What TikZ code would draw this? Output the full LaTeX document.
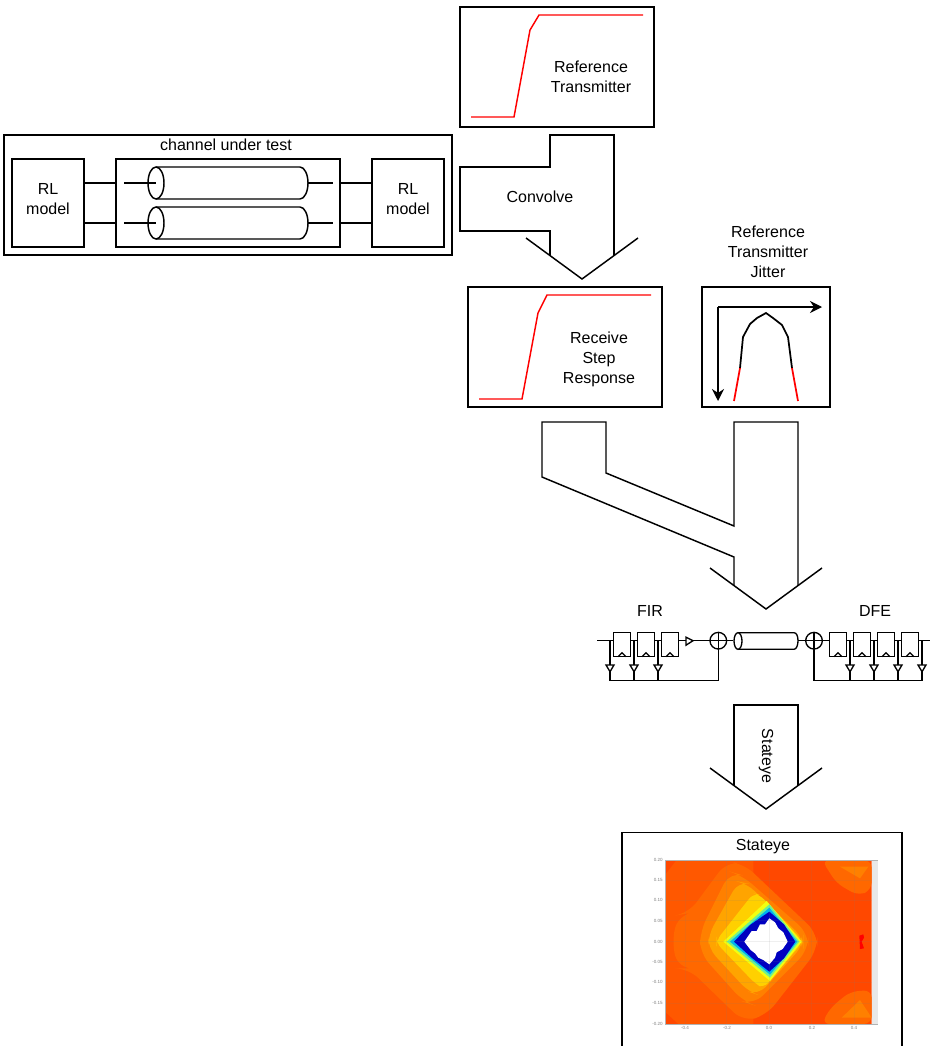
\documentclass[tikz,border=0pt]{standalone}
\usepackage{fontspec}
\setmainfont{Liberation Sans}
\usetikzlibrary{arrows.meta,positioning,calc}
\definecolor{eyeA}{HTML}{FF4800}
\definecolor{eyeL}{HTML}{FF5800}
\definecolor{eyeB}{HTML}{FF6800}
\definecolor{eyeC}{HTML}{FF8000}
\definecolor{eyeD}{HTML}{FFA400}
\definecolor{eyeE}{HTML}{FFD000}
\definecolor{eyeF}{HTML}{F2FF10}
\definecolor{eyeG}{HTML}{70F090}
\definecolor{eyeH}{HTML}{00B4F0}
\definecolor{eyeI}{HTML}{0000C0}
\tikzset{
  line/.style={line width=1.1pt, line join=miter},
  thin line/.style={line width=1pt},
  box/.style={draw, line width=1.1pt, minimum width=#1, minimum height=90pt, inner sep=0pt},
  label/.style={font=\fontsize{12}{15}\selectfont, align=center, inner sep=0pt},
  reg/.style={draw, line width=1pt, fill=white, minimum width=13pt, minimum height=18pt, inner sep=0pt},
  sumnode/.style={draw, circle, line width=1pt, fill=white, minimum size=12.5pt, inner sep=0pt},
  tick/.style={font=\fontsize{3.4}{4}\selectfont, text=gray, inner sep=0pt},
}
\begin{document}
\begin{tikzpicture}[x=0.75pt, y=-0.75pt, >={Stealth[length=9pt,width=9pt]}]
  \useasboundingbox (0,0) rectangle (930,1046);
  % reference transmitter
  \node[box=145.5pt] (txbox) at (557,67) {};
  \draw[line, red] (471,117) -- (514,117) -- (530,30) -- (539,15) -- (643,15);
  \node[label] (txtext) at (591,77) {Reference\\Transmitter};
  % channel under test
  \node[box=336pt] (channel) at (228,195) {};
  \node[label] (chtext) at (226,145) {channel under test};
  \node[box=54pt, minimum height=66pt] (rlleft) at (48,203) {};
  \node[box=54pt, minimum height=66pt] (rlright) at (408,203) {};
  \node[box=168pt, minimum height=66pt] (cable) at (228,203) {};
  \node[label] (rllefttext) at (48,199) {RL\\model};
  \node[label] (rlrighttext) at (408,199) {RL\\model};
  \foreach \y in {183,223} {
    \draw[line] (rlleft.east |- 0,\y) -- (cable.west |- 0,\y);
    \draw[line] (cable.east |- 0,\y) -- (rlright.west |- 0,\y);
    \draw[line] (124,\y) -- (156,\y);
    \draw[line] (156,\y-16) -- (300,\y-16) .. controls (304.4,\y-16) and (308,\y-8.8) .. (308,\y)
      .. controls (308,\y+8.8) and (304.4,\y+16) .. (300,\y+16) -- (156,\y+16);
    \draw[line] (156,\y) ellipse (8 and 16);
    \draw[line] (308,\y) -- (333,\y);
  }
  % convolve arrow
  \draw[line] (550,255.6) -- (550,231) -- (460,231) -- (460,167) -- (550,167) -- (550,135)
    -- (614,135) -- (614,255.6);
  \draw[line] (526,238) -- (582,279) -- (638,238);
  \node[label] (convolve) at (540,197) {Convolve};
  % receive step response
  \node[box=145.5pt] (rxbox) at (565,347) {};
  \draw[line, red] (479,399) -- (522,399) -- (538,313) -- (547,295) -- (651,295);
  \node[label] (rxtext) at (599,359) {Receive\\Step\\Response};
  % jitter
  \node[label] (jittext) at (768,252) {Reference\\Transmitter\\Jitter};
  \node[box=96pt] (jitbox) at (766,347) {};
  \coordinate (jitorg) at (718,307);
  \draw[line, ->] (jitorg) -- (822,307);
  \draw[line, ->] (jitorg) -- (718,401);
  \draw[line, line width=1.3pt] (740,368) -- (743,337) -- (750,324) -- (757,318) -- (766,313) -- (773,318)
    -- (782,325) -- (788,337) -- (792,368);
  \draw[line, red, line width=1.3pt] (734,401) -- (740,368);
  \draw[line, red, line width=1.3pt] (792,368) -- (798,401);
  % merge arrow
  \draw[line] (734,585.6) -- (734,557) -- (542,477) -- (542,422) -- (606,422) -- (606,473)
    -- (734,526) -- (734,422) -- (798,422) -- (798,585.6);
  \draw[line] (710,568) -- (766,609) -- (822,568);
  % equaliser
  \node[label] (firtext) at (650,611) {FIR};
  \node[label] (dfetext) at (875,611) {DFE};
  \coordinate (linein) at (597,640.7);
  \coordinate (lineout) at (930,640.7);
  \node[sumnode] (sumfir) at (718.3,640.7) {};
  \node[sumnode] (sumdfe) at (814,640.7) {};
  \draw[thin line] (linein) -- (sumfir);
  \draw[thin line] (sumdfe) -- (lineout);
  \draw[thin line] (sumfir) -- (733,640.7);
  \draw[thin line] (797,640.7) -- (sumdfe);
  \draw[line width=1.1pt] (sumfir.north) -- (sumfir.south) (sumfir.west) -- (sumfir.east);
  \draw[line width=1.1pt] (sumdfe.north) -- (sumdfe.south) (sumdfe.west) -- (sumdfe.east);
  \foreach \n/\x in {a/622,b/646,c/670,d/838,e/862,f/886,g/910} {
    \node[reg] (reg\n) at (\x,644.7) {};
    \draw[thin line] (\x-4,656.7) -- (\x,652.7) -- (\x+4,656.7);
  }
  \draw[thin line, fill=white] (686,637.2) -- (693,640.7) -- (686,645.2) -- cycle;
  % fir taps
  \draw[thin line] (sumfir.south) -- (718.3,680.7) -- (610,680.7) -- (610,640.7);
  \foreach \x in {610,634,658} {
    \draw[thin line] (\x,640.7) -- (\x,680.7);
    \draw[thin line, fill=white] (\x-4,665) -- (\x+4,665) -- (\x,671.7) -- cycle;
  }
  % dfe taps
  \draw[thin line] (sumdfe.south) -- (814,680.7) -- (922,680.7) -- (922,640.7);
  \foreach \x in {850,874,898,922} {
    \draw[thin line] (\x,640.7) -- (\x,680.7);
    \draw[thin line, fill=white] (\x-4,665) -- (\x+4,665) -- (\x,671.7) -- cycle;
  }
  % channel model between the summers
  \draw[thin line, fill=white] (738,632.7) -- (794,632.7) .. controls (796.5,632.7) and (798,636) .. (798,640.7)
    .. controls (798,645) and (796.5,649.3) .. (794,649.3) -- (738,649.3);
  \draw[thin line, fill=white] (738,641) ellipse (4 and 8.3);
  % stateye arrow
  \draw[line] (734,785.6) -- (734,705) -- (798,705) -- (798,785.6);
  \draw[line] (710,768) -- (766,809) -- (822,768);
  \node[label, rotate=-90] (arrowtext) at (766,756) {Stateye};
  % stateye plot
  \fill[gray!18] (872,860) rectangle (878,1024);
  \begin{scope}[shift={(610,825)}, x=0.25pt, y=-0.25pt]
    \clip (165,105) rectangle (785,597);
    \fill[eyeA] (165,105) rectangle (785,597);
    \fill[eyeL] (200,105) -- (430,105) -- (430,597) -- (205,597) -- (165,560) -- (165,150) -- cycle;
    % corner patches
    \fill[eyeB, rounded corners=6pt] (635,105) -- (785,105) -- (785,195) -- (745,212) -- (680,175) -- cycle;
    \fill[eyeB, rounded corners=6pt] (635,597) -- (785,597) -- (785,495) -- (720,500) -- (660,550) -- cycle;
    \fill[eyeC] (690,125) -- (775,125) -- (750,160) -- cycle;
    \fill[eyeC] (695,578) -- (785,578) -- (750,525) -- cycle;
    % contour rings
    \fill[eyeB, rounded corners=10pt] (185,350) -- (205,270) -- (235,265) -- (350,110) -- (400,115)
      -- (622,325) -- (622,375) -- (470,570) -- (400,590) -- (235,430) -- (205,430) -- cycle;
    \fill[eyeC, rounded corners=10pt] (270,320) -- (360,140) -- (395,150) -- (595,325) -- (595,375)
      -- (430,540) -- (400,530) -- (270,385) -- cycle;
    \fill[eyeD, rounded corners=8pt] (295,330) -- (385,170) -- (410,175) -- (580,340) -- (580,360)
      -- (445,510) -- (415,500) -- (295,370) -- cycle;
    \fill[eyeE, rounded corners=5pt] (320,345) -- (430,205) -- (450,210) -- (575,345) -- (575,355)
      -- (460,490) -- (435,475) -- (320,355) -- cycle;
    \fill[eyeF] (340,350) -- (470,228) -- (575,350) -- (480,468) -- cycle;
    \fill[eyeG] (350,350) -- (478,238) -- (568,350) -- (480,458) -- cycle;
    \fill[eyeH] (360,350) -- (478,248) -- (562,350) -- (480,449) -- cycle;
    \fill[eyeI] (372,350) -- (420,300) -- (478,260) -- (522,298) -- (556,350) -- (522,400) -- (478,440) -- (425,398) -- cycle;
    \fill[white] (403,350) -- (425,318) -- (440,318) -- (450,298) -- (465,298) -- (478,280)
      -- (495,292) -- (505,310) -- (520,322) -- (533,350) -- (518,372) -- (500,382) -- (495,398)
      -- (478,418) -- (460,405) -- (445,398) -- (435,385) -- (422,375) -- cycle;
    \fill[red] (748,332) -- (760,328) -- (762,338) -- (755,350) -- (762,370) -- (750,372) -- cycle;
    \foreach \x in {225,350,478,605,733} \draw[gray, opacity=.12, line width=.3pt] (\x,105) -- (\x,597);
    \foreach \y in {165,225,287,350,410,472,535} \draw[gray, opacity=.12, line width=.3pt] (165,\y) -- (785,\y);
  \end{scope}
  \draw[gray!60, line width=.4pt] (665,860) -- (665,1024) -- (878,1024) (665,860) -- (878,860);
  \foreach \y/\t in {860/0.20,880/0.15,900/0.10,921/0.05,942/0.00,962/-0.05,982/-0.10,1003/-0.15,1024/-0.20}
    \node[tick, anchor=east] at (663,\y) {\t};
  \foreach \x/\t in {685/-0.4,727/-0.2,769/0.0,812/0.2,854/0.4}
    \node[tick] at (\x,1028) {\t};
  \draw[line] (622,1046) -- (622,832.5) -- (902,832.5) -- (902,1046);
  \node[label] (eyetext) at (763,847) {Stateye};
\end{tikzpicture}
\end{document}
